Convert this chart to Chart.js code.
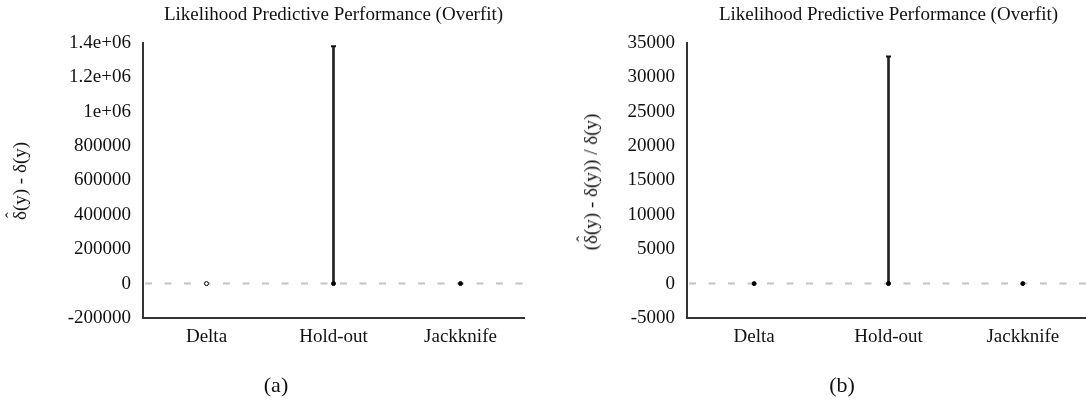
<!DOCTYPE html>
<html lang="en">
<head>
  <meta charset="UTF-8" />
  <title>Likelihood Predictive Performance (Overfit)</title>
  <script src="https://cdn.jsdelivr.net/npm/chart.js"></script>
  <style>
    html, body {
      margin: 0;
      width: 1086px;
      height: 402px;
      overflow: hidden;
      background: white;
      font-family: "Liberation Serif", serif;
    }
    .panel {
      position: absolute;
      top: 0;
      height: 402px;
    }
    #panelA { left: 0; width: 540px; }
    #panelB { left: 540px; width: 560px; }
    .caption {
      position: absolute;
      top: 372px;
      font-size: 22px;
      color: #111;
      transform: translateX(-50%);
    }
    .ytitle {
      position: absolute;
      font-size: 19px;
      color: #111;
      white-space: nowrap;
      transform: translate(-50%, -50%) rotate(-90deg);
    }
    .hat {
      position: relative;
      display: inline-block;
    }
    .hat span {
      position: absolute;
      left: 0.12em;
      top: -0.42em;
      font-size: 0.9em;
    }
  </style>
</head>
<body>

<div class="panel" id="panelA"><canvas id="chartA" width="540" height="402"></canvas></div>
<div class="panel" id="panelB"><canvas id="chartB" width="560" height="402"></canvas></div>
<div class="ytitle" style="left:20px; top:181px"><span class="hat">δ<span>ˆ</span></span>(y) - δ(y)</div>
<div class="ytitle" style="left:591px; top:182px">(<span class="hat">δ<span>ˆ</span></span>(y) - δ(y)) / δ(y)</div>
<div class="caption" style="left:276px">(a)</div>
<div class="caption" style="left:842px">(b)</div>

<script>
// data
const categories = ['Delta', 'Hold-out', 'Jackknife'];

// panel (a): difference
const pointA = [0, 0, 0];
const upperA = [null, 1380000, null];
const ticksA = ['-200000', '0', '200000', '400000', '600000', '800000', '1e+06', '1.2e+06', '1.4e+06'];

// panel (b): relative difference
const pointB = [0, 0, 0];
const upperB = [null, 33000, null];
const ticksB = ['-5000', '0', '5000', '10000', '15000', '20000', '25000', '30000', '35000'];

Chart.defaults.font.family = '"Liberation Serif", "Times New Roman", serif';
Chart.defaults.color = '#111';

// dashed reference line at zero
const zeroLine = {
  id: 'zeroLine',
  beforeDatasetsDraw(chart) {
    const { ctx, chartArea, scales } = chart;
    const y = scales.y.getPixelForValue(0);
    ctx.save();
    ctx.strokeStyle = '#c4c4c4';
    ctx.lineWidth = 2;
    ctx.setLineDash([7, 12.5]);
    ctx.beginPath();
    ctx.moveTo(chartArea.left + 2, y);
    ctx.lineTo(chartArea.right, y);
    ctx.stroke();
    ctx.restore();
  }
};

function makeChart(canvasId, points, upper, tickLabels, range, pad, yWidth, hollow) {
  const whisker = categories.map((c, i) => upper[i] == null ? null : [points[i], upper[i]]);

  return new Chart(document.getElementById(canvasId), {
    type: 'bar',
    data: {
      labels: categories,
      datasets: [
        {
          type: 'bar',
          data: whisker,
          backgroundColor: '#222',
          barThickness: 2,
          borderWidth: 0,
          order: 3
        },
        {
          type: 'line',
          data: upper,
          showLine: false,
          pointStyle: 'line',
          pointRadius: 2.5,
          borderColor: '#111',
          borderWidth: 2,
          order: 2
        },
        {
          type: 'line',
          data: points,
          showLine: false,
          pointRadius: 2,
          pointBorderWidth: 1,
          pointBorderColor: '#000',
          pointBackgroundColor: categories.map((c, i) => hollow[i] ? '#fff' : '#000'),
          order: 1
        }
      ]
    },
    options: {
      responsive: false,
      animation: false,
      layout: { padding: { left: pad.left, right: pad.right, top: 0, bottom: 0 } },
      plugins: {
        legend: { display: false },
        tooltip: { enabled: false },
        title: {
          display: true,
          text: 'Likelihood Predictive Performance (Overfit)',
          fullSize: false,
          color: '#111',
          font: { size: 19, weight: 'normal' },
          padding: { top: 4, bottom: 16 }
        }
      },
      scales: {
        x: {
          grid: { display: false, drawTicks: false },
          border: { color: '#333', width: 2 },
          ticks: { font: { size: 19 }, padding: 8, maxRotation: 0, color: '#111' },
          afterFit(scale) { scale.height = 84; }
        },
        y: {
          min: range[0],
          max: range[1],
          grid: { display: false, drawTicks: false },
          border: { color: '#333', width: 2 },
          ticks: {
            stepSize: range[2],
            autoSkip: false,
            padding: 12,
            font: { size: 19 },
            color: '#111',
            callback: (v, i) => tickLabels[i]
          },
          afterFit(scale) { scale.width = yWidth; }
        }
      }
    },
    plugins: [zeroLine]
  });
}

makeChart('chartA', pointA, upperA, ticksA, [-200000, 1400000, 200000],
  { left: 5, right: 16 }, 138, [true, false, false]);

makeChart('chartB', pointB, upperB, ticksB, [-5000, 35000, 5000],
  { left: 37, right: 10 }, 110, [false, false, false]);
</script>
</body>
</html>
